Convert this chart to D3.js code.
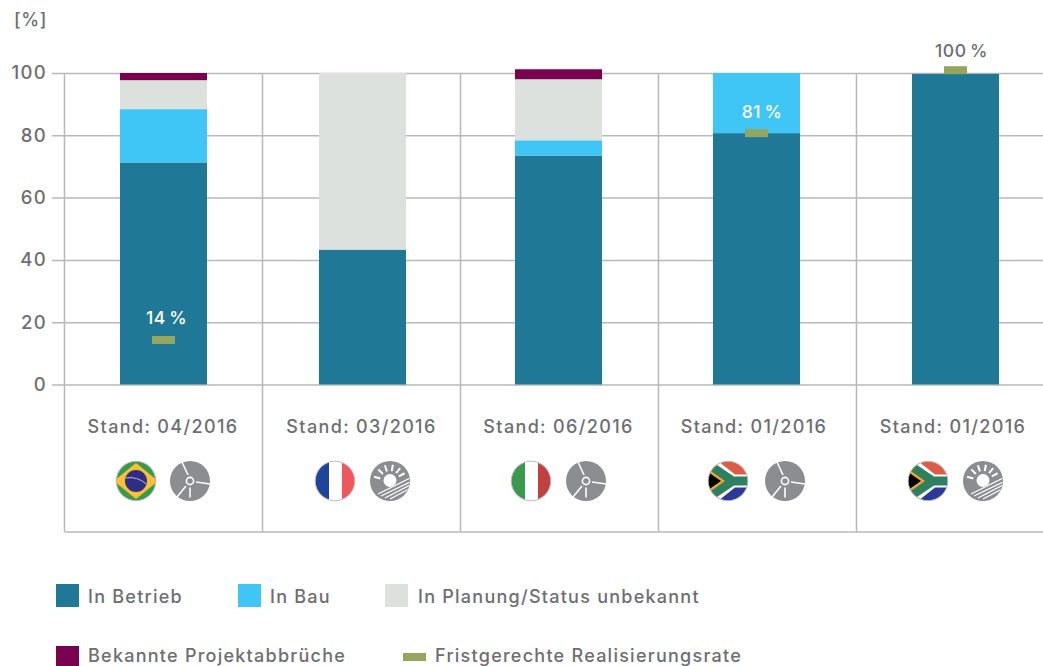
<!DOCTYPE html>
<html><head><meta charset="utf-8">
<script src="https://cdn.jsdelivr.net/npm/d3@7"></script>
<style>html,body{margin:0;padding:0;background:#fff;overflow:hidden}
text{font-family:Inter,"Open Sans",sans-serif;fill:#6d6e71;font-weight:500}</style></head>
<body><svg id="c" width="1043" height="666"></svg>
<script>
const categories=["Stand: 04/2016","Stand: 03/2016","Stand: 06/2016","Stand: 01/2016","Stand: 01/2016"];
const inBetrieb=[71.3,43.3,73.5,80.7,99.7];
const inBau=[17.1,0,4.9,19.3,0];
const inPlanung=[9.3,56.7,19.6,0,0];
const abbrueche=[2.3,0,3.2,0,0];
const realisierung=[14.3,null,null,80.7,100.9];
const rateLabels=["14\u2009%",null,null,"81\u2009%","100\u2009%"];
const flags=["br","fr","it","za","za"];
const technologies=["wind","solar","wind","wind","solar"];
const yTicks=[0,20,40,60,80,100];
const seriesKeys=["In Betrieb","In Bau","In Planung/Status unbekannt","Bekannte Projektabbrüche"];
const seriesValues=[inBetrieb,inBau,inPlanung,abbrueche];
const seriesColors=["#1f7896","#40c6f6","#dce1de","#7a0050"];
const rateColor="#95a55d", rateName="Fristgerechte Realisierungsrate";
const barNudge=[0,1,-1,-1,0];
const labelNudge=[-.5,-1,0,-2.5,-2.5];
const gridColor="#b9b9bb";

const svg=d3.select("#c");
const y=d3.scaleLinear().domain([0,100]).range([384.5,73]);
const x=d3.scaleBand().domain(d3.range(5)).range([64.5,1054.5]);
const bw=87, cx=i=>x(i)+x.bandwidth()/2+barNudge[i];

// grid
const gy=svg.append("g").attr("transform","translate(1043,0)")
 .call(d3.axisLeft(y).tickValues(yTicks).tickSize(991).tickPadding(5).tickFormat(d3.format("d")));
gy.select(".domain").remove();
gy.selectAll("line").attr("stroke",gridColor).attr("stroke-width",1.5);
gy.selectAll("text").attr("font-size",18.5).attr("letter-spacing",1.3).style("fill","#6d6e71");
svg.selectAll(".vg").data(d3.range(5)).join("line").attr("class","vg")
 .attr("x1",i=>x(i)).attr("x2",i=>x(i)).attr("y1",y(100)).attr("y2",532)
 .attr("stroke",gridColor).attr("stroke-width",1.5);
svg.append("line").attr("x1",65).attr("x2",1043).attr("y1",532).attr("y2",532)
 .attr("stroke",gridColor).attr("stroke-width",1.5);
svg.append("text").text("[%]").attr("x",14).attr("y",26).attr("font-size",18).attr("letter-spacing",.6);

// stacked bars
const rows=categories.map((c,i)=>Object.fromEntries(seriesKeys.map((k,j)=>[k,seriesValues[j][i]])));
const stack=d3.stack().keys(seriesKeys)(rows);
svg.selectAll(".s").data(stack).join("g").attr("class","s").attr("fill",(d,i)=>seriesColors[i])
 .selectAll("rect").data(d=>d.filter(e=>e[1]>e[0])).join("rect")
 .attr("x",d=>cx(rows.indexOf(d.data))-bw/2).attr("width",bw)
 .attr("y",d=>y(d[1])).attr("height",d=>y(d[0])-y(d[1]));

// rate markers + labels
const rateIdx=d3.range(5).filter(i=>realisierung[i]!=null);
svg.selectAll(".m").data(rateIdx).join("rect").attr("class","m").attr("fill",rateColor)
 .attr("x",i=>cx(i)-11.5).attr("width",23).attr("height",8).attr("y",i=>y(realisierung[i])-4);
svg.selectAll(".ml").data(rateIdx).join("text").attr("class","ml")
 .text(i=>rateLabels[i]).attr("text-anchor","middle").attr("font-size",17.5).attr("letter-spacing",0.5)
 .attr("x",i=>cx(i)+(i===0?3:i===3?5.5:6)).attr("y",i=>y(realisierung[i])-(i===4?13:15.5))
 .style("fill",i=>i===4?"#6d6e71":"#fff");

// category labels
svg.selectAll(".cl").data(d3.range(5)).join("text").attr("class","cl")
 .text(i=>categories[i]).attr("text-anchor","middle").attr("font-size",18).attr("letter-spacing",1.35)
 .attr("x",i=>cx(i)+labelNudge[i]).attr("y",432.5);

// icons
const defs=svg.append("defs");
defs.append("clipPath").attr("id","cc").append("circle").attr("r",19.6);
function flag(g,k){
 const f=g.append("g").attr("clip-path","url(#cc)");
 const R=(xx,yy,w,h,c)=>f.append("rect").attr("x",xx).attr("y",yy).attr("width",w).attr("height",h).attr("fill",c);
 const P=(d,c)=>f.append("path").attr("d",d).attr("fill",c);
 if(k==="br"){R(-20,-20,40,40,"#3a9a4c");P("M0,-18L22,0L0,18L-22,0Z","#fbbf35");
  f.append("circle").attr("r",11).attr("fill","#2e2f84");
  f.append("path").attr("d","M-10.5,-3Q1,-5 10.5,3").attr("fill","none").attr("stroke","#cfd3c8").attr("stroke-width",.9);}
 if(k==="fr"){R(-20,-20,14,40,"#1f449c");R(-6,-20,13,40,"#fff");R(7,-20,13,40,"#ef575d");}
 if(k==="it"){R(-20,-20,14,40,"#3a9a4c");R(-6,-20,13,40,"#fff");R(7,-20,13,40,"#c2403f");}
 if(k==="za"){R(-20,-20,40,20,"#dc5c45");R(-20,0,40,20,"#2b3a97");
  P("M-20,-20L-10,-20L7,-6.5L20,-6.5L20,6.5L7,6.5L-10,20L-20,20Z","#fff");
  P("M-20,-16L-14,-18L6,-4.5L20,-4.5L20,4.5L6,4.5L-14,18L-20,16Z","#2f8061");
  P("M-20,-12L-3,0L-20,12Z","#f0a72c");P("M-20,-9L-7,0L-20,9Z","#000");}
 g.append("circle").attr("r",19.8).attr("fill","none").attr("stroke","#b5b6b8").attr("stroke-width",.9);
}
function tech(g,k){
 g.append("circle").attr("r",20).attr("fill","#8c8d90");
 const L=(p,a,b,c,d,w)=>p.append("line").attr("x1",a).attr("y1",b).attr("x2",c).attr("y2",d).attr("stroke","#fff").attr("stroke-width",w);
 if(k==="wind"){
  [[-2,-6,-8,-19],[6,1,20,3],[-4,5,-13,16],[0,6.5,0,16.5]].forEach(s=>L(g,...s,1.6));
  g.append("circle").attr("r",3.6).attr("fill","#8c8d90").attr("stroke","#fff").attr("stroke-width",1.6);
 } else {
  const p=g.append("g").attr("clip-path","url(#cc)");
  p.append("circle").attr("cy",-.5).attr("r",6.5).attr("fill","#fff");
  [-165,-135,-108,-80,-52,-28].forEach(a=>{const t=a*Math.PI/180;L(p,10*Math.cos(t),10*Math.sin(t),16.5*Math.cos(t),16.5*Math.sin(t),2);});
  p.append("path").attr("d","M-15,14L22,-5L22,22L-15,22Z").attr("fill","#8c8d90");
  [[-9,15,20,1],[-5,17,20,4],[0,18,19,8],[-12,13,20,-3]].forEach(s=>L(p,...s,1.2));
 }
}
const flagX=[136,335,531,728,928], techX=[190,390,586,785,983];
d3.range(5).forEach(i=>{
 flag(svg.append("g").attr("transform",`translate(${flagX[i]},481)`),flags[i]);
 tech(svg.append("g").attr("transform",`translate(${techX[i]},481)`),technologies[i]);
});

// legend
const legX=[56,238,385,56], legY=[584,584,584,646], legBase=[603,603,603,661.5];
seriesKeys.forEach((k,i)=>{
 svg.append("rect").attr("x",legX[i]).attr("y",legY[i]).attr("width",23).attr("height",23).attr("fill",seriesColors[i]);
 svg.append("text").text(k).attr("x",legX[i]+32+(i===2?1:0)).attr("y",legBase[i]).attr("font-size",18).attr("letter-spacing",1.25);
});
svg.append("rect").attr("x",403).attr("y",653).attr("width",23).attr("height",8).attr("fill",rateColor);
svg.append("text").text(rateName).attr("x",435).attr("y",661.5).attr("font-size",18).attr("letter-spacing",1.25);
</script></body></html>
